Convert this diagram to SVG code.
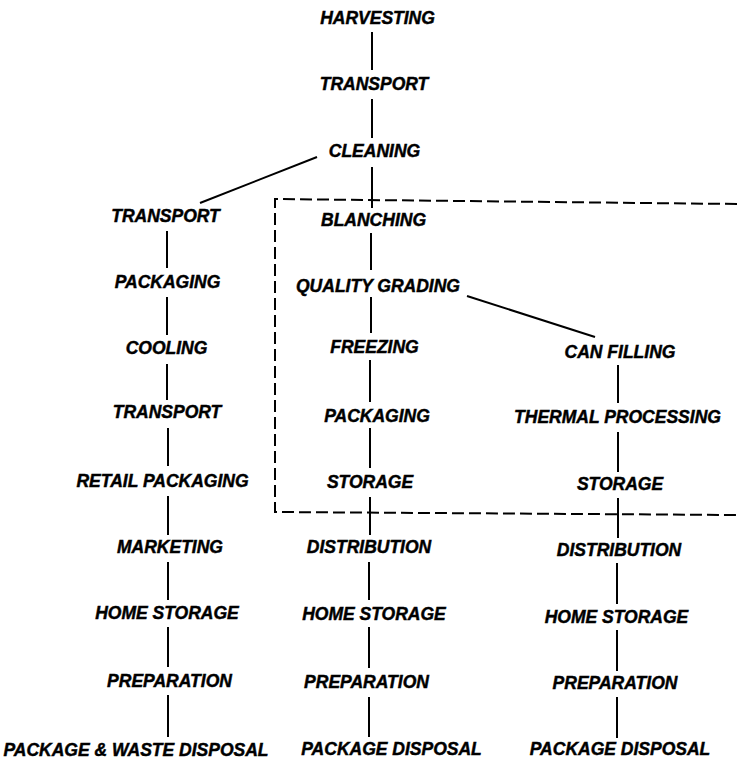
<svg xmlns="http://www.w3.org/2000/svg" width="737" height="761" viewBox="0 0 737 761">
<style>
text{font-family:"Liberation Sans",Arial,sans-serif;font-weight:bold;font-style:italic;font-size:17.5px;fill:#000;stroke:#000;stroke-width:0.45;text-anchor:middle}
.c line{stroke:#000;stroke-width:2;stroke-linecap:butt}
.box{fill:none;stroke:#000;stroke-width:2;stroke-dasharray:12 5}
</style>
<rect width="737" height="761" fill="#fff"/>
<path class="box" d="M737,204 L275,199 L275,512 L737,515"/>
<g class="c" id="connectors">
<line x1="372" y1="32" x2="372" y2="70"/>
<line x1="372" y1="99" x2="372" y2="138"/>
<line x1="372" y1="167" x2="372" y2="208"/>
<line x1="371" y1="233" x2="371" y2="270"/>
<line x1="371" y1="297" x2="371" y2="333"/>
<line x1="370" y1="360" x2="370" y2="402"/>
<line x1="370" y1="428" x2="370" y2="468"/>
<line x1="370" y1="497" x2="370" y2="535"/>
<line x1="369" y1="562" x2="369" y2="600"/>
<line x1="369" y1="627" x2="369" y2="668"/>
<line x1="369" y1="697" x2="369" y2="737"/>
<line x1="167" y1="231" x2="167" y2="268"/>
<line x1="167" y1="297" x2="167" y2="335"/>
<line x1="167" y1="364" x2="167" y2="400"/>
<line x1="168" y1="428" x2="168" y2="466"/>
<line x1="168" y1="496" x2="168" y2="535"/>
<line x1="168" y1="562" x2="168" y2="600"/>
<line x1="168" y1="627" x2="168" y2="667"/>
<line x1="168" y1="695" x2="168" y2="737"/>
<line x1="618" y1="365" x2="618" y2="403"/>
<line x1="618" y1="432" x2="618" y2="472"/>
<line x1="618" y1="498" x2="618" y2="538"/>
<line x1="617" y1="563" x2="617" y2="604"/>
<line x1="617" y1="630" x2="617" y2="671"/>
<line x1="617" y1="697" x2="617" y2="738"/>
<line x1="317" y1="157" x2="200" y2="203"/>
<line x1="467" y1="296" x2="595" y2="337"/>
</g>
<g id="harvesting"><text x="377.5" y="24">HARVESTING</text></g>
<g id="transport1"><text x="374" y="90">TRANSPORT</text></g>
<g id="cleaning"><text x="374.5" y="157">CLEANING</text></g>
<g id="l-transport"><text x="165.5" y="222">TRANSPORT</text></g>
<g id="l-packaging"><text x="167.5" y="288">PACKAGING</text></g>
<g id="l-cooling"><text x="166.5" y="354">COOLING</text></g>
<g id="l-transport2"><text x="167" y="418">TRANSPORT</text></g>
<g id="l-retail"><text x="162.5" y="487">RETAIL PACKAGING</text></g>
<g id="l-marketing"><text x="170" y="553">MARKETING</text></g>
<g id="l-home"><text x="167" y="619">HOME STORAGE</text></g>
<g id="l-prep"><text x="169.5" y="687">PREPARATION</text></g>
<g id="l-disposal"><text x="136" y="756">PACKAGE &amp; WASTE DISPOSAL</text></g>
<g id="c-blanching"><text x="373.5" y="226">BLANCHING</text></g>
<g id="c-quality"><text x="378" y="292">QUALITY GRADING</text></g>
<g id="c-freezing"><text x="374.5" y="353">FREEZING</text></g>
<g id="c-packaging"><text x="377" y="422">PACKAGING</text></g>
<g id="c-storage"><text x="370" y="488">STORAGE</text></g>
<g id="c-distribution"><text x="369" y="553">DISTRIBUTION</text></g>
<g id="c-home"><text x="374" y="620">HOME STORAGE</text></g>
<g id="c-prep"><text x="366.5" y="688">PREPARATION</text></g>
<g id="c-disposal"><text x="391.5" y="755">PACKAGE DISPOSAL</text></g>
<g id="r-canfilling"><text x="620" y="358">CAN FILLING</text></g>
<g id="r-thermal"><text x="617.5" y="423">THERMAL PROCESSING</text></g>
<g id="r-storage"><text x="620" y="490">STORAGE</text></g>
<g id="r-distribution"><text x="619" y="556">DISTRIBUTION</text></g>
<g id="r-home"><text x="616.5" y="623">HOME STORAGE</text></g>
<g id="r-prep"><text x="615" y="689">PREPARATION</text></g>
<g id="r-disposal"><text x="620" y="755">PACKAGE DISPOSAL</text></g>
</svg>
